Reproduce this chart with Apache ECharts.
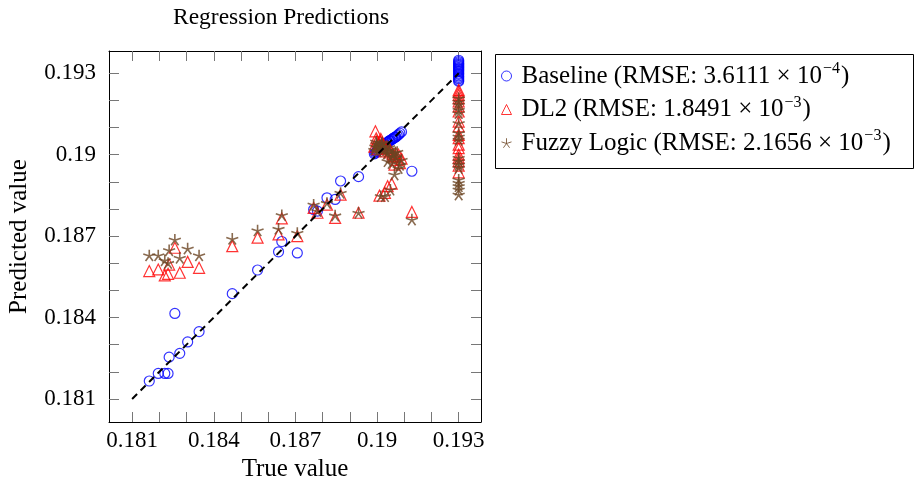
<!DOCTYPE html>
<html><head><meta charset="utf-8">
<script src="https://cdn.jsdelivr.net/npm/echarts@6/dist/echarts.min.js"></script>
<style>html,body{margin:0;padding:0;background:#fff}#c{width:914px;height:487px}</style>
</head><body><div id="c"></div>
<script>
// True values (shared test set)
const trueValues = [
  0.18163, 0.18196, 0.18220, 0.18232, 0.18236, 0.18257, 0.18275, 0.18304, 0.18346,
  0.18468, 0.18561, 0.18638, 0.18650, 0.18707, 0.18767, 0.18781, 0.18816, 0.18846, 0.18866, 0.18932, 0.19128,
  0.18994, 0.18999, 0.19004, 0.19009, 0.19014, 0.19019, 0.19024, 0.19029, 0.19034, 0.19039,
  0.19044, 0.19049, 0.19054, 0.19059, 0.19064, 0.19069, 0.19074, 0.19079, 0.19084, 0.19090,
  0.18990, 0.18997, 0.19002, 0.19012, 0.19017, 0.19027, 0.19037, 0.19046, 0.19057, 0.19067,
  0.193, 0.193, 0.193, 0.193, 0.193, 0.193, 0.193, 0.193, 0.193,
  0.193, 0.193, 0.193, 0.193, 0.193, 0.193, 0.193, 0.193, 0.193
];
const baselinePred = [
  0.18166, 0.18194, 0.18194, 0.18194, 0.18254, 0.18415, 0.18268, 0.18310, 0.18348,
  0.18488, 0.18575, 0.18642, 0.18680, 0.18638, 0.18798, 0.18792, 0.18841, 0.18835, 0.18903, 0.18919, 0.18939,
  0.19006, 0.19012, 0.19018, 0.19022, 0.19026, 0.19030, 0.19034, 0.19038, 0.19043, 0.19046,
  0.19050, 0.19053, 0.19056, 0.19060, 0.19063, 0.19066, 0.19070, 0.19074, 0.19079, 0.19084,
  0.19003, 0.19010, 0.19015, 0.19024, 0.19030, 0.19036, 0.19044, 0.19051, 0.19058, 0.19064,
  0.19348, 0.19343, 0.19338, 0.19334, 0.19330, 0.19326, 0.19322, 0.19318, 0.19314,
  0.19310, 0.19306, 0.19300, 0.19296, 0.19290, 0.19285, 0.19280, 0.19274, 0.19270
];
const dl2Pred = [
  0.18571, 0.18577, 0.18555, 0.18561, 0.18595, 0.18657, 0.18565, 0.18605, 0.18583,
  0.18663, 0.18694, 0.18706, 0.18765, 0.18700, 0.18804, 0.18786, 0.18816, 0.18767, 0.18853, 0.18786, 0.18789,
  0.19086, 0.19050, 0.19040, 0.18849, 0.19058, 0.19045, 0.19035, 0.18859, 0.19030, 0.18884,
  0.19025, 0.19015, 0.18893, 0.18993, 0.18963, 0.19005, 0.18981, 0.19000, 0.18969, 0.18985,
  0.19030, 0.19060, 0.19020, 0.19048, 0.19038, 0.19012, 0.19022, 0.19008, 0.19002, 0.18995,
  0.19238, 0.19230, 0.19220, 0.19208, 0.19196, 0.19178, 0.19159, 0.19122, 0.19104,
  0.19073, 0.19061, 0.19037, 0.19024, 0.19000, 0.18988, 0.18976, 0.18960, 0.18935
];
const fuzzyPred = [
  0.18629, 0.18629, 0.18611, 0.18601, 0.18648, 0.18687, 0.18620, 0.18654, 0.18629,
  0.18690, 0.18721, 0.18727, 0.18777, 0.18712, 0.18816, 0.18792, 0.18822, 0.18776, 0.18859, 0.18786, 0.18761,
  0.19030, 0.19040, 0.19025, 0.19035, 0.18847, 0.19045, 0.19020, 0.18847, 0.19015, 0.18976,
  0.19028, 0.18871, 0.18969, 0.19005, 0.18927, 0.18990, 0.19010, 0.18951, 0.18963, 0.18981,
  0.19018, 0.19048, 0.19012, 0.19026, 0.19040, 0.19032, 0.19004, 0.19018, 0.18996, 0.19008,
  0.19208, 0.19195, 0.19184, 0.19165, 0.19153, 0.19116, 0.19080, 0.19067, 0.19055,
  0.18988, 0.18976, 0.18963, 0.18951, 0.18908, 0.18896, 0.18884, 0.18871, 0.18853
];
const seriesNames = ['Baseline', 'DL2', 'Fuzzy Logic'];
const rmseMantissa = ['3.6111', '1.8491', '2.1656'];
const rmseExponent = ['\u22124', '\u22123', '\u22123'];
const tickValues = [0.181, 0.182, 0.183, 0.184, 0.185, 0.186, 0.187, 0.188, 0.189, 0.190, 0.191, 0.192, 0.193];
const labelValues = [0.181, 0.184, 0.187, 0.19, 0.193];
const refLine = [0.181, 0.193];

const FONT = 'Liberation Serif';
const axMin = 0.18015, axMax = 0.19382;
const tickColor = '#777';

function pairs(pred) { return trueValues.map((x, i) => [x, pred[i]]); }

const starPath = 'path://M0,-1L0,0M0.951,-0.309L0,0M0.588,0.809L0,0M-0.588,0.809L0,0M-0.951,-0.309L0,0';
const colors = ['#0000ff', '#ff0000', '#6b4523'];
const symbols = ['circle', 'triangle', starPath];
const sizes = [10, 11, 12];
const widths = [1.2, 1.2, 1.6];

function axisCommon(pos, showLabel) {
  return {
    type: 'value', min: axMin, max: axMax, position: pos,
    axisLine: { show: true, onZero: false, lineStyle: { color: '#000', width: 1 } },
    axisTick: { show: true, inside: true, length: 10, customValues: tickValues, lineStyle: { color: tickColor, width: 1 } },
    axisLabel: showLabel ? { show: true, customValues: labelValues, fontFamily: FONT, fontSize: 23, color: '#000' } : { show: false },
    splitLine: { show: false }
  };
}

const chart = echarts.init(document.getElementById('c'), null, { renderer: 'canvas' });

const xBottom = axisCommon('bottom', true);
xBottom.axisLabel.margin = 7;
xBottom.name = 'True value';
xBottom.nameLocation = 'middle';
xBottom.nameGap = 25;
xBottom.nameTextStyle = { fontFamily: FONT, fontSize: 25, color: '#000' };
const yLeft = axisCommon('left', true);
yLeft.axisLabel.margin = 13;
yLeft.name = 'Predicted value';
yLeft.nameLocation = 'middle';
yLeft.nameGap = 77;
yLeft.nameTextStyle = { fontFamily: FONT, fontSize: 25, color: '#000' };

const scatterSeries = seriesNames.map((n, k) => ({
  name: n, type: 'scatter', xAxisIndex: 0, yAxisIndex: 0,
  symbol: symbols[k], symbolSize: sizes[k], symbolKeepAspect: true,
  itemStyle: { color: 'rgba(0,0,0,0)', borderColor: colors[k], borderWidth: widths[k] },
  data: pairs([baselinePred, dl2Pred, fuzzyPred][k]),
  z: 2 + k
}));

chart.setOption({
  animation: false,
  backgroundColor: '#fff',
  title: {
    text: 'Regression Predictions', left: 276, top: 1, textAlign: 'center',
    textStyle: { fontFamily: FONT, fontSize: 23.5, fontWeight: 'normal', color: '#000' }
  },
  grid: { left: 109, top: 51, width: 372, height: 371, containLabel: false },
  xAxis: [xBottom, axisCommon('top', false)],
  yAxis: [yLeft, axisCommon('right', false)],
  legend: {
    orient: 'vertical', left: 501, top: 61, padding: 0, itemGap: 6,
    itemWidth: 10, itemHeight: 10,
    data: seriesNames.map((n, k) => ({
      name: n, icon: symbols[k],
      itemStyle: { color: 'rgba(0,0,0,0)', borderColor: colors[k], borderWidth: 1 }
    })),
    formatter: function (name) {
      const k = seriesNames.indexOf(name);
      return '{p|' + name + ' (RMSE: ' + rmseMantissa[k] + ' \u00d7 10}{s|' + rmseExponent[k] + '}{t|)}';
    },
    textStyle: {
      fontFamily: FONT, fontSize: 25, color: '#000',
      rich: {
        p: { fontFamily: FONT, fontSize: 25, color: '#000', lineHeight: 30, padding: [0, 0, 0, 5] },
        t: { fontFamily: FONT, fontSize: 25, color: '#000', lineHeight: 30 },
        s: { fontFamily: FONT, fontSize: 16, color: '#000', lineHeight: 16, verticalAlign: 'top', padding: [0, 1, 0, 1] }
      }
    }
  },
  graphic: [{
    type: 'rect', left: 493, top: 52, shape: { width: 418, height: 114 },
    style: { fill: 'none', stroke: '#000', lineWidth: 1 }, z: 100
  }],
  series: scatterSeries.concat([{
    type: 'line', xAxisIndex: 0, yAxisIndex: 0, showSymbol: false, silent: true,
    data: [[refLine[0], refLine[0]], [refLine[1], refLine[1]]],
    lineStyle: { color: '#000', width: 2, type: [7, 5] }, z: 10
  }])
});
</script></body></html>
